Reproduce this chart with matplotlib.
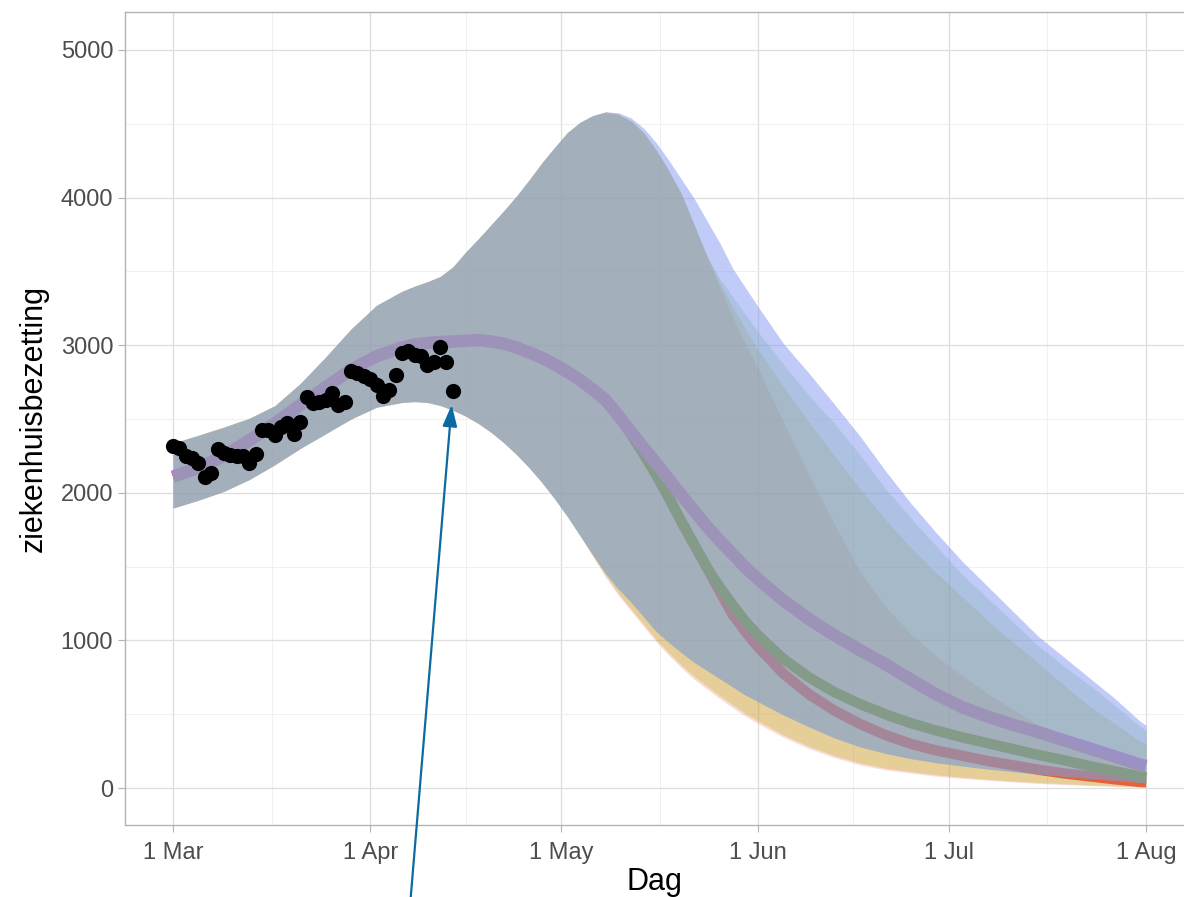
import matplotlib
matplotlib.use("Agg")
import matplotlib.pyplot as plt
import matplotlib.dates as mdates
import pandas as pd

plt.rcParams['font.family'] = ['Liberation Sans', 'DejaVu Sans']

start = pd.Timestamp("2021-03-01")

# observed hospital occupancy (days since 1 Mar)
obs_day = list(range(45))
obs_val = [2317, 2303, 2249, 2235, 2201, 2107, 2134, 2296, 2270, 2256,
           2249, 2250, 2201, 2263, 2425, 2425, 2391, 2446, 2473, 2398,
           2480, 2649, 2608, 2615, 2629, 2676, 2595, 2615, 2825, 2812,
           2791, 2771, 2730, 2656, 2697, 2798, 2947, 2960, 2933, 2927,
           2866, 2886, 2988, 2886, 2690]

# model output, part where all scenarios are equal
day_early = [0, 4, 8, 12, 16, 20, 24, 28, 32, 36, 38, 40, 42, 44, 46, 48,
             50, 52, 54, 56, 58, 60, 62, 64]
hi_early = [2337, 2390, 2445, 2505, 2590, 2740, 2920, 3110, 3270, 3365, 3400,
            3430, 3465, 3530, 3630, 3720, 3815, 3910, 4010, 4120, 4235, 4340,
            4440, 4510]
lo_early = [1897, 1950, 2010, 2090, 2190, 2300, 2400, 2500, 2580, 2612, 2618,
            2612, 2592, 2560, 2520, 2470, 2410, 2340, 2260, 2170, 2070, 1960,
            1840, 1710]
mid_early = [2110, 2170, 2250, 2355, 2470, 2595, 2715, 2835, 2925, 2985, 3005,
             3015, 3022, 3025, 3030, 3035, 3025, 3010, 2985, 2950, 2915, 2870,
             2820, 2765]

# scenario part
day_late = [66, 68, 70, 72, 74, 76, 78, 80, 82, 84, 86, 88, 90, 92,
            96, 100, 104, 108, 112, 116, 120, 124, 128, 132, 136, 140, 144,
            148, 152, 153]
hi_top = [4555, 4580, 4575, 4540, 4470, 4370, 4250, 4120, 3990, 3840, 3690,
          3520, 3390, 3260, 3010, 2810, 2600, 2385, 2150, 1930, 1730, 1540,
          1370, 1200, 1030, 890, 750, 610, 455, 425]
hi_inner = [4555, 4580, 4565, 4520, 4440, 4320, 4180, 4020, 3810, 3600]
hi_green = hi_inner + [3450, 3330, 3210, 3090, 2870, 2660, 2470, 2260, 2030,
                       1830, 1640, 1450, 1290, 1130, 965, 830, 700, 565, 420, 390]
hi_yellow = hi_inner + [3420, 3260, 3110, 2970, 2720, 2480, 2250, 2030, 1820,
                        1630, 1460, 1300, 1140, 990, 850, 700, 560, 440, 320, 300]
hi_red = hi_inner + [3390, 3190, 3010, 2840, 2480, 2120, 1790, 1470, 1230,
                     1045, 895, 765, 645, 535, 430, 335, 255, 190, 135, 125]
lo_main = [1580, 1455, 1350, 1260, 1160, 1060, 985, 915, 850, 795, 740, 685,
           630, 585, 495, 415, 340, 280, 235, 200, 172, 150, 130, 112, 95, 80,
           65, 52, 38, 35]
lo_yellow = [1575, 1440, 1320, 1215, 1110, 1005, 915, 830, 755, 690, 625, 565,
             505, 455, 360, 283, 220, 170, 135, 112, 90, 74, 60, 48, 38, 30,
             22, 16, 10, 9]
lo_red = [1570, 1430, 1308, 1200, 1095, 990, 898, 812, 735, 670, 605, 545,
          487, 437, 344, 268, 207, 158, 124, 102, 81, 66, 53, 42, 32, 24, 17,
          11, 6, 5]
mid_purple = [2700, 2630, 2525, 2415, 2305, 2200, 2090, 1980, 1875, 1770, 1675,
              1585, 1495, 1415, 1270, 1145, 1035, 935, 840, 735, 635, 550, 485,
              430, 380, 325, 270, 215, 160, 150]
mid_green = [2700, 2630, 2520, 2400, 2265, 2120, 1965, 1800, 1645, 1490, 1360,
             1240, 1130, 1035, 875, 750, 650, 570, 500, 440, 390, 345, 305, 265,
             225, 190, 150, 115, 80, 72]
mid_red = [2700, 2630, 2520, 2400, 2265, 2120, 1965, 1800, 1645, 1490, 1330,
           1175, 1060, 955, 775, 635, 525, 435, 360, 300, 255, 220, 185, 155,
           125, 100, 80, 60, 42, 40]

dates = start + pd.to_timedelta(day_early + day_late, unit="D")
obs_dates = start + pd.to_timedelta(obs_day, unit="D")

ribbons = [
    ("#F07C68", lo_red, hi_red),
    ("#B4B200", lo_yellow, hi_yellow),
    ("#7CC074", lo_main, hi_green),
    ("#4A90F0", lo_main, hi_top),
    ("#A696F0", lo_main, hi_top),
]
lines = [
    ("#FF2E47", mid_red, 7.5),
    ("#5C9600", mid_green, 7.5),
    ("#D86CF0", mid_purple, 9),
]

fig = plt.figure(figsize=(11.84, 8.97), dpi=100)
ax = fig.add_axes([125 / 1184, 72 / 897, 1 - 125 / 1184, 813 / 897])

# lines sit under the ribbons
for col, mid, lw in lines:
    ax.plot(dates, mid_early + mid, color=col, lw=lw, solid_capstyle="butt",
            solid_joinstyle="round", zorder=2)

for col, lo, hi in ribbons:
    ax.fill_between(dates, lo_early + lo, hi_early + hi, color=col,
                    alpha=0.28, lw=0, zorder=3)

ax.scatter(obs_dates, obs_val, s=120, color="black", lw=0, zorder=5)

ax.annotate("", xy=(obs_dates[-1], obs_val[-1]), xycoords="data",
            xytext=(410 / 1184, -0.01), textcoords="figure fraction",
            annotation_clip=False, zorder=6,
            arrowprops=dict(arrowstyle="-|>,head_length=0.65,head_width=0.22",
                            color="#0b6aa2", lw=1.6, shrinkA=0, shrinkB=10,
                            mutation_scale=20))

# axes styling, theme_light look
ax.set_xlim(start - pd.Timedelta(days=7.55), start + pd.Timedelta(days=158.97))
ax.set_ylim(-250, 5257)
ax.xaxis.set_major_locator(mdates.MonthLocator())
ax.xaxis.set_major_formatter(
    plt.FuncFormatter(lambda v, p: "%d %s" % (mdates.num2date(v).day,
                                              mdates.num2date(v).strftime("%b"))))
months = pd.date_range("2021-03-01", "2021-08-01", freq="MS")
minor_x = [months[i] + (months[i + 1] - months[i]) / 2 for i in range(len(months) - 1)]
ax.set_xticks(minor_x, minor=True)
ax.set_yticks([0, 1000, 2000, 3000, 4000, 5000])
ax.set_yticks([500, 1500, 2500, 3500, 4500], minor=True)

ax.grid(which="major", color="#dedede", lw=0.9, zorder=0)
ax.grid(which="minor", color="#eeeeee", lw=0.6, zorder=0)
ax.set_axisbelow(True)
for side in ["left", "bottom", "top"]:
    ax.spines[side].set_color("#b3b3b3")
    ax.spines[side].set_linewidth(1.0)
ax.spines["right"].set_visible(False)
ax.tick_params(which="major", length=5, width=0.8, color="#b3b3b3",
               labelsize=17, labelcolor="#4d4d4d")
ax.tick_params(axis="x", which="major", pad=7)
ax.tick_params(which="minor", length=0)

ax.set_xlabel("Dag", fontsize=22)
ax.set_ylabel("ziekenhuisbezetting", fontsize=22)
ax.xaxis.set_label_coords(0.5, -0.052)
ax.yaxis.set_label_coords(-0.072, 0.5)

fig.savefig("out.png", dpi=100)
